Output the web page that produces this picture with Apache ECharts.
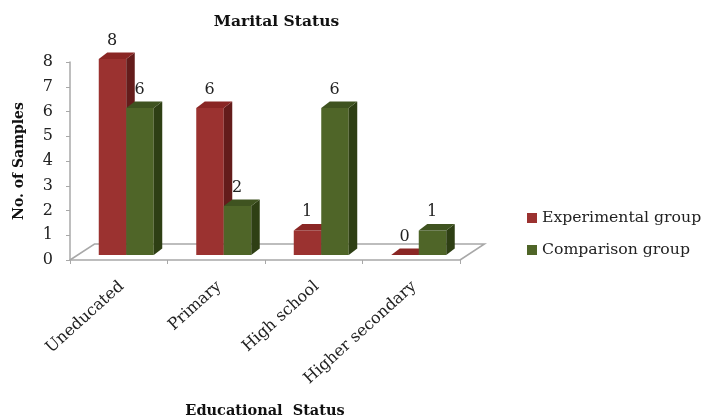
<!DOCTYPE html>
<html>
<head>
<meta charset="utf-8">
<style>html,body{margin:0;padding:0;background:#fff}#c{width:703px;height:417px}</style>
<script src="https://cdn.jsdelivr.net/npm/echarts@6/dist/echarts.min.js"></script>
</head>
<body>
<div id="c"></div>
<script>
const categories = ['Uneducated', 'Primary', 'High school', 'Higher secondary'];
const experimental = [8, 6, 1, 0];
const comparison = [6, 2, 6, 1];
const yTicks = [0, 8];

const serif = '"DejaVu Serif", "Liberation Serif", serif';
const textColor = '#222';
const axisGray = '#a8a8a8';
const DEPTH_X = 8.5, DEPTH_Y = 6.5;

// Extruded column: front face, top bevel, side wall and a value label above it.
function column(side, front, top, wall) {
  return function (params, api) {
    const cat = api.value(0), val = api.value(1);
    const base = api.coord([cat, 0]);
    const head = api.coord([cat, val]);
    const w = api.size([1, 0])[0] * 0.282;
    const x0 = side < 0 ? base[0] - w : base[0];
    const x1 = x0 + w, yb = base[1], yt = head[1];
    const poly = (points, fill) => ({ type: 'polygon', shape: { points }, style: { fill } });
    const children = [];
    if (val > 0) {
      children.push(poly([[x0, yb], [x1, yb], [x1, yt], [x0, yt]], front));
      children.push(poly([[x1, yb], [x1 + DEPTH_X, yb - DEPTH_Y], [x1 + DEPTH_X, yt - DEPTH_Y], [x1, yt]], wall));
    }
    children.push(poly([[x0, yt], [x1, yt], [x1 + DEPTH_X, yt - DEPTH_Y], [x0 + DEPTH_X, yt - DEPTH_Y]], top));
    children.push({
      type: 'text',
      style: {
        x: (x0 + x1) / 2 - 0.5, y: yt - DEPTH_Y - 12,
        text: String(val), align: 'center', verticalAlign: 'middle',
        font: '16px ' + serif, fill: textColor
      }
    });
    return { type: 'group', children };
  };
}

// Perspective floor behind the columns, anchored to the plot rectangle.
function floor(params, api) {
  const c = params.coordSys;
  const yb = c.y + c.height, xr = c.x + c.width, dx = 24.5, dy = 16;
  return {
    type: 'polyline',
    shape: { points: [[c.x, yb], [c.x + dx, yb - dy], [xr + dx, yb - dy], [xr, yb]] },
    style: { stroke: axisGray, lineWidth: 1.5, fill: null }
  };
}

const chart = echarts.init(document.getElementById('c'), null, { renderer: 'canvas' });
chart.setOption({
  animation: false,
  backgroundColor: '#fff',
  title: [
    { text: 'Marital Status', left: 271.5, top: 9, textAlign: 'center',
      textStyle: { fontFamily: serif, fontSize: 15.5, fontWeight: 'bold', color: '#111' } },
    { text: 'Educational  Status', left: 260, top: 399, textAlign: 'center',
      textStyle: { fontFamily: serif, fontSize: 14.5, fontWeight: 'bold', color: '#111' } }
  ],
  legend: {
    orient: 'vertical', left: 527, top: 210, padding: 0,
    itemWidth: 10, itemHeight: 10, itemGap: 16, icon: 'rect',
    data: ['Experimental group', 'Comparison group'],
    textStyle: { fontFamily: serif, fontSize: 15.7, color: textColor, padding: [0, 0, 0, 0] }
  },
  grid: [
    { left: 70, top: 62, width: 390, height: 198 },
    { left: 77.5, top: 59, width: 390, height: 196 }
  ],
  xAxis: [
    { type: 'category', gridIndex: 0, data: categories,
      axisLine: { lineStyle: { color: axisGray, width: 1.5 } },
      axisTick: { show: true, length: 4, lineStyle: { color: axisGray } },
      axisLabel: { rotate: 42, margin: 27, padding: [0, -4, 0, 0], interval: 0, fontFamily: serif, fontSize: 16, color: textColor } },
    { type: 'category', gridIndex: 1, data: categories, show: false }
  ],
  yAxis: [
    { type: 'value', gridIndex: 0, min: yTicks[0], max: yTicks[1], interval: 1,
      name: 'No. of Samples', nameLocation: 'middle', nameGap: 44, nameRotate: 90,
      nameTextStyle: { fontFamily: serif, fontSize: 14, fontWeight: 'bold', color: '#111' },
      axisLine: { show: true, lineStyle: { color: axisGray, width: 1.5 } },
      axisTick: { show: true, length: 4, lineStyle: { color: axisGray } },
      axisLabel: { margin: 17, fontFamily: serif, fontSize: 16, color: textColor },
      splitLine: { show: false } },
    { type: 'value', gridIndex: 1, min: yTicks[0], max: yTicks[1], show: false }
  ],
  series: [
    { type: 'custom', name: 'floor', xAxisIndex: 0, yAxisIndex: 0, data: [[0, 0]],
      renderItem: floor, silent: true, clip: false, z: 1 },
    { type: 'custom', name: 'Experimental group', xAxisIndex: 1, yAxisIndex: 1, clip: false, z: 2,
      itemStyle: { color: '#9b3230' },
      encode: { x: 0, y: 1 },
      data: experimental.map((v, i) => [i, v]),
      renderItem: column(-1, '#9b3230', '#8a2624', '#641c1b') },
    { type: 'custom', name: 'Comparison group', xAxisIndex: 1, yAxisIndex: 1, clip: false, z: 3,
      itemStyle: { color: '#4f6528' },
      encode: { x: 0, y: 1 },
      data: comparison.map((v, i) => [i, v]),
      renderItem: column(1, '#4f6528', '#3f5320', '#2e3f14') }
  ]
});
</script>
</body>
</html>
